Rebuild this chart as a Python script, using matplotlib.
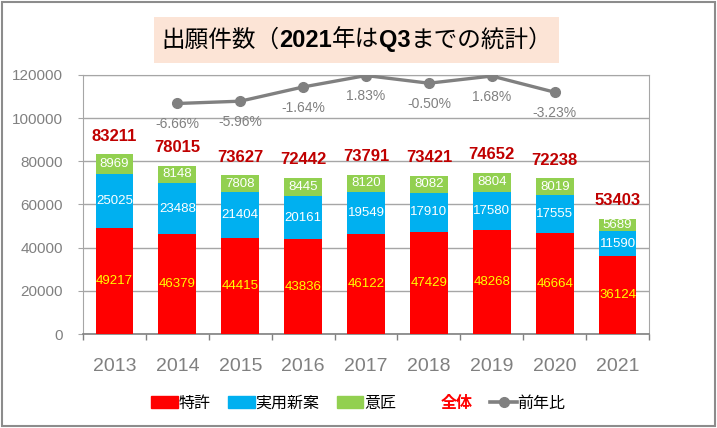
import matplotlib
matplotlib.use('Agg')
import matplotlib.pyplot as plt
from matplotlib.patches import Patch, Rectangle
from matplotlib.lines import Line2D
from matplotlib.transforms import offset_copy

plt.rcParams['font.family'] = ['Liberation Sans', 'Noto Sans CJK JP']

# data
years = ['2013', '2014', '2015', '2016', '2017', '2018', '2019', '2020', '2021']
tokkyo = [49217, 46379, 44415, 43836, 46122, 47429, 48268, 46664, 36124]
jitsuyo = [25025, 23488, 21404, 20161, 19549, 17910, 17580, 17555, 11590]
isho = [8969, 8148, 7808, 8445, 8120, 8082, 8804, 8019, 5689]
totals = [83211, 78015, 73627, 72442, 73791, 73421, 74652, 72238, 53403]
yoy_years = ['2014', '2015', '2016', '2017', '2018', '2019', '2020']
yoy = [-6.66, -5.96, -1.64, 1.83, -0.50, 1.68, -3.23]

c_red = '#FF0000'
c_blue = '#00B0F0'
c_green = '#92D050'
c_gray = '#808080'

fig = plt.figure(figsize=(7.17, 4.28), dpi=100)
ax = fig.add_axes([0.1158, 0.2196, 0.7894, 0.6052])

# stacked bars
x = list(range(len(years)))
w = 0.6
b1 = ax.bar(x, tokkyo, w, color=c_red, zorder=3)
b2 = ax.bar(x, jitsuyo, w, bottom=tokkyo, color=c_blue, zorder=3)
bottom3 = [a + b for a, b in zip(tokkyo, jitsuyo)]
b3 = ax.bar(x, isho, w, bottom=bottom3, color=c_green, zorder=3)

ax.bar_label(b1, label_type='center', color='#FFFF00', fontsize=9.5)
ax.bar_label(b2, label_type='center', color='white', fontsize=9.5)
ax.bar_label(b3, label_type='center', color='white', fontsize=9.5)

for i, t in enumerate(totals):
    ax.annotate(str(t), (i, t), xytext=(0, 13), textcoords='offset points',
                ha='center', va='center', color='#C00000', fontsize=12,
                fontweight='bold')

ax.set_xlim(-0.5, len(years) - 0.5)
ax.set_ylim(0, 120000)
ax.set_yticks(range(0, 120001, 20000))
ax.set_xticks(x)
ax.set_xticklabels(years)
ax.set_xticks([i - 0.5 for i in range(len(years) + 1)], minor=True)
ax.tick_params(axis='x', which='major', length=0, pad=17, labelsize=14,
               labelcolor=c_gray)
ax.tick_params(axis='x', which='minor', length=4.5, color=c_gray, width=1)
ax.tick_params(axis='y', length=3.5, pad=11, labelsize=11,
               labelcolor=c_gray, color='#A6A6A6')
ax.grid(axis='y', color='#A6A6A6', linewidth=1, zorder=0)
for s in ['left', 'right', 'top']:
    ax.spines[s].set_color('#A6A6A6')
ax.spines['bottom'].set_color(c_gray)
ax.spines['bottom'].set_linewidth(1.2)

# year-over-year line on hidden secondary axis
ax2 = ax.twinx()
ax2.set_ylim(-76.7, 2.0)
ax2.axis('off')
xi = [years.index(y) for y in yoy_years]
ax2.plot(xi, yoy, color=c_gray, linewidth=2.4, marker='o', markersize=7,
         zorder=4)
for xx, p in zip(xi, yoy):
    ax2.annotate(f'{p:.2f}%', (xx, p), xytext=(0, -15),
                 textcoords='offset points', ha='center', va='center',
                 color=c_gray, fontsize=10)

# title box, digits in bold
fig.patches.append(Rectangle((0.2148, 0.8528), 0.565, 0.1075,
                             transform=fig.transFigure, facecolor='#FCE4D6',
                             edgecolor='none', zorder=0))
title_parts = [('出願件数（', 'normal'), ('2021', 'bold'), ('年は', 'normal'),
               ('Q3', 'bold'), ('までの統計）', 'normal')]
renderer = fig.canvas.get_renderer()
trans = fig.transFigure
for s, wt in title_parts:
    t = fig.text(0.2245, 0.9065, s, ha='left', va='center', fontsize=17,
                 fontweight=wt, color='black', transform=trans)
    ext = t.get_window_extent(renderer=renderer)
    trans = offset_copy(trans, fig=fig, x=ext.width, units='dots')

# legend
handles = [Patch(color=c_red), Patch(color=c_blue), Patch(color=c_green),
           Patch(color='none'),
           Line2D([], [], color=c_gray, linewidth=2.6, marker='o', markersize=7)]
labels = ['特許', '実用新案', '意匠', '全体', '前年比']
leg = fig.legend(handles, labels, loc='center', bbox_to_anchor=(0.5, 0.058),
                 ncol=5, frameon=False, handlelength=1.65,
                 handletextpad=0.05, columnspacing=1.1,
                 prop={'family': ['Noto Sans CJK JP'], 'size': 11.5})
txt = leg.get_texts()[3]
txt.set_color(c_red)
txt.set_fontweight('bold')

# outer border
fig.patches.append(Rectangle((0.003, 0.005), 0.994, 0.99,
                             transform=fig.transFigure, facecolor='none',
                             edgecolor='#8C8C8C', linewidth=1.5))

fig.savefig('out.png', dpi=100)
